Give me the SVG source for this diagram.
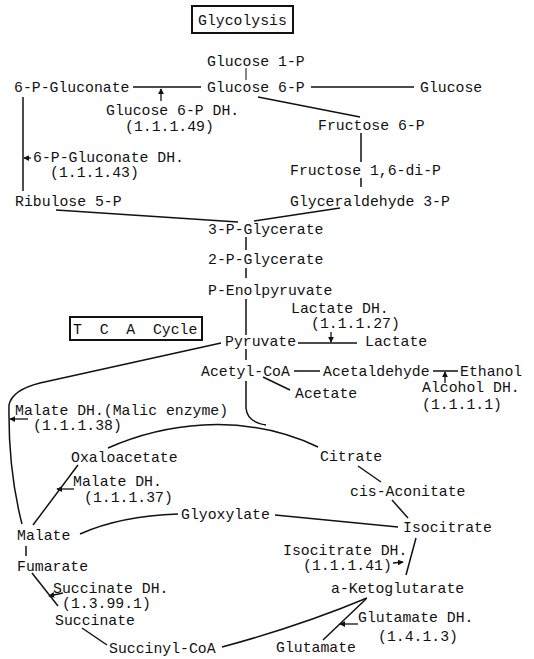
<svg xmlns="http://www.w3.org/2000/svg" width="534" height="659" viewBox="0 0 534 659">
<defs>
<style>
text{font-family:"Liberation Mono","DejaVu Sans Mono",monospace;font-size:14.8px;fill:#111}
.ln{fill:none;stroke:#111;stroke-width:1.5}
.th{fill:none;stroke:#111;stroke-width:1}
.bx{fill:#fff;stroke:#111;stroke-width:2}
.ar{fill:none;stroke:#111;stroke-width:1.3;marker-end:url(#ah)}
</style>
<marker id="ah" viewBox="0 0 8 8" refX="7" refY="4" markerWidth="6" markerHeight="6" orient="auto" markerUnits="userSpaceOnUse">
<path d="M0,0 L8,4 L0,8 z" fill="#111"/>
</marker>
</defs>
<rect width="534" height="659" fill="#fff"/>

<g id="connectors">
<line class="th" x1="246" y1="68" x2="246" y2="80"/>
<line class="ln" x1="133" y1="87" x2="201" y2="87"/>
<line class="ln" x1="311" y1="87" x2="414" y2="87"/>
<line class="ar" x1="161" y1="101" x2="161" y2="89"/>
<line class="ln" x1="258" y1="97" x2="360" y2="117"/>
<line class="ln" x1="23" y1="97" x2="23" y2="191"/>
<line class="ar" x1="31" y1="158" x2="24" y2="158"/>
<line class="ln" x1="361" y1="133" x2="361" y2="162"/>
<line class="ln" x1="361" y1="178" x2="361" y2="187"/>
<line class="ln" x1="56" y1="210" x2="238" y2="222"/>
<line class="ln" x1="340" y1="208" x2="254" y2="221"/>
<line class="ln" x1="246" y1="237" x2="246" y2="250"/>
<line class="ln" x1="246" y1="268" x2="246" y2="278"/>
<line class="ln" x1="246" y1="299" x2="246" y2="335"/>
<line class="ln" x1="298" y1="343" x2="357" y2="343"/>
<line class="ar" x1="331" y1="332" x2="331" y2="342"/>
<line class="ln" x1="246" y1="349" x2="246" y2="360"/>
<line class="ln" x1="294" y1="371" x2="320" y2="371"/>
<line class="ln" x1="433" y1="371" x2="458" y2="371"/>
<line class="ar" x1="445" y1="383" x2="445" y2="372"/>
<line class="ln" x1="263" y1="377" x2="290" y2="390"/>
<path class="ln" d="M246,381 L246,408 Q247,422 266,425"/>
<path class="ln" d="M221,343 L40,383 Q12,390 9,405 Q8,470 22,524"/>
<line class="ar" x1="28" y1="419" x2="10" y2="419"/>
<path class="ln" d="M108,448 C160,425 240,410 318,447"/>
<line class="ln" x1="78" y1="465" x2="33" y2="525"/>
<line class="ar" x1="74" y1="489" x2="57" y2="489"/>
<line class="ln" x1="358" y1="466" x2="381" y2="482"/>
<line class="ln" x1="392" y1="500" x2="408" y2="518"/>
<path class="ln" d="M80,534 Q120,516 178,514"/>
<line class="ln" x1="275" y1="515" x2="398" y2="527"/>
<line class="ln" x1="416" y1="538" x2="406" y2="575"/>
<line class="ar" x1="393" y1="563" x2="403" y2="562"/>
<line class="ln" x1="26" y1="546" x2="26" y2="556"/>
<line class="ln" x1="32" y1="573" x2="58" y2="606"/>
<line class="ar" x1="63" y1="593" x2="49" y2="596"/>
<line class="ln" x1="82" y1="628" x2="107" y2="645"/>
<path class="ln" d="M222,647 Q300,626 367,598"/>
<line class="ln" x1="323" y1="640" x2="366" y2="599"/>
<line class="ar" x1="358" y1="624" x2="340" y2="624"/>
</g>

<g id="glycolysis-title"><rect class="bx" x="192" y="6" width="101" height="27"/><text x="198" y="25">Glycolysis</text></g>
<g id="tca-title"><rect class="bx" x="70" y="317" width="132" height="23"/><text x="73" y="334" xml:space="preserve">T  C  A  Cycle</text></g>

<g id="glucose-1-p"><text x="207" y="66">Glucose 1-P</text></g>
<g id="gluconate-6p"><text x="14" y="92">6-P-Gluconate</text></g>
<g id="glucose-6-p"><text x="207" y="92">Glucose 6-P</text></g>
<g id="glucose"><text x="420" y="92">Glucose</text></g>
<g id="g6pdh"><text x="106" y="115">Glucose 6-P DH.</text><text x="125" y="131">(1.1.1.49)</text></g>
<g id="fructose-6-p"><text x="318" y="130">Fructose 6-P</text></g>
<g id="gluconate-dh"><text x="33" y="162">6-P-Gluconate DH.</text><text x="50" y="177">(1.1.1.43)</text></g>
<g id="fructose-bp"><text x="290" y="175">Fructose 1,6-di-P</text></g>
<g id="ribulose-5-p"><text x="15" y="206">Ribulose 5-P</text></g>
<g id="glyceraldehyde-3-p"><text x="290" y="206">Glyceraldehyde 3-P</text></g>
<g id="p3-glycerate"><text x="208" y="234">3-P-Glycerate</text></g>
<g id="p2-glycerate"><text x="208" y="264">2-P-Glycerate</text></g>
<g id="pep"><text x="208" y="295">P-Enolpyruvate</text></g>
<g id="ldh"><text x="291" y="313">Lactate DH.</text><text x="311" y="328">(1.1.1.27)</text></g>
<g id="pyruvate"><text x="225" y="346">Pyruvate</text></g>
<g id="lactate"><text x="365" y="346">Lactate</text></g>
<g id="acetyl-coa"><text x="201" y="376">Acetyl-CoA</text></g>
<g id="acetaldehyde"><text x="323" y="376">Acetaldehyde</text></g>
<g id="ethanol"><text x="460" y="376">Ethanol</text></g>
<g id="adh"><text x="422" y="392">Alcohol DH.</text><text x="422" y="409">(1.1.1.1)</text></g>
<g id="acetate"><text x="295" y="398">Acetate</text></g>
<g id="malic-enzyme"><text x="15" y="415">Malate DH.(Malic enzyme)</text><text x="33" y="430">(1.1.1.38)</text></g>
<g id="oxaloacetate"><text x="71" y="462">Oxaloacetate</text></g>
<g id="citrate"><text x="320" y="461">Citrate</text></g>
<g id="mdh"><text x="73" y="486">Malate DH.</text><text x="84" y="502">(1.1.1.37)</text></g>
<g id="cis-aconitate"><text x="350" y="496">cis-Aconitate</text></g>
<g id="glyoxylate"><text x="181" y="519">Glyoxylate</text></g>
<g id="isocitrate"><text x="403" y="532">Isocitrate</text></g>
<g id="malate"><text x="17" y="540">Malate</text></g>
<g id="idh"><text x="283" y="555">Isocitrate DH.</text><text x="303" y="570">(1.1.1.41)</text></g>
<g id="fumarate"><text x="17" y="571">Fumarate</text></g>
<g id="sdh"><text x="53" y="593">Succinate DH.</text><text x="62" y="608">(1.3.99.1)</text></g>
<g id="a-ketoglutarate"><text x="331" y="593">a-Ketoglutarate</text></g>
<g id="succinate"><text x="55" y="625">Succinate</text></g>
<g id="gdh"><text x="358" y="622">Glutamate DH.</text><text x="378" y="641">(1.4.1.3)</text></g>
<g id="succinyl-coa"><text x="109" y="653">Succinyl-CoA</text></g>
<g id="glutamate"><text x="276" y="652">Glutamate</text></g>
</svg>
